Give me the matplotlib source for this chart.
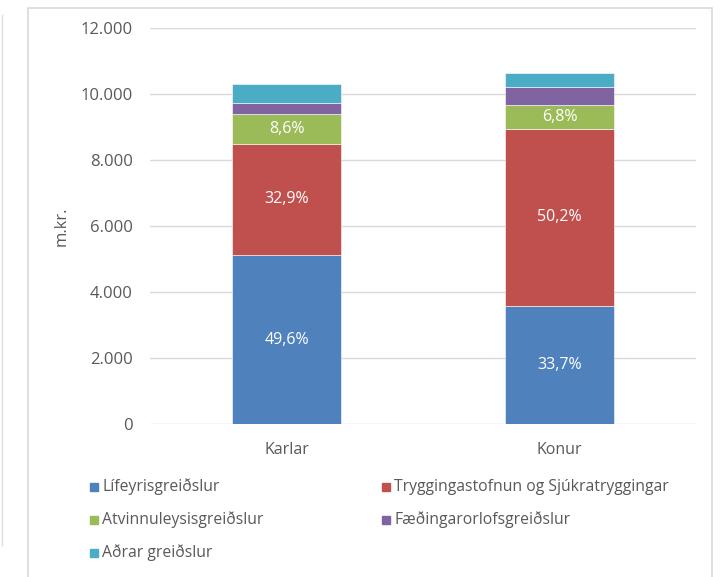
import numpy as np
import matplotlib
matplotlib.use("Agg")
import matplotlib.pyplot as plt
from matplotlib.patches import Rectangle
from matplotlib.lines import Line2D

plt.rcParams['font.family'] = ['Open Sans', 'DejaVu Sans']

categories = ["Karlar", "Konur"]
series = ["Lífeyrisgreiðslur", "Tryggingastofnun og Sjúkratryggingar",
          "Atvinnuleysisgreiðslur", "Fæðingarorlofsgreiðslur", "Aðrar greiðslur"]
lifeyris = [5110, 3590]
trygginga = [3390, 5345]
atvinnuleysis = [885, 725]
faedingar = [345, 545]
adrar = [570, 440]
values = [lifeyris, trygginga, atvinnuleysis, faedingar, adrar]
labelled = [True, True, True, False, False]
colors = ["#4F81BD", "#C0504D", "#9BBB59", "#8064A2", "#4BACC6"]
yticks = [0, 2000, 4000, 6000, 8000, 10000, 12000]

W, H = 720, 577
fig = plt.figure(figsize=(7.2, 5.77), dpi=100)
ax = fig.add_axes([150 / W, 1 - 424 / H, (696 - 150) / W, (424 - 28) / H])

grey = "#595959"
x = np.arange(len(categories))
totals = np.sum(values, axis=0)
bottom = np.zeros(len(categories))
for vals, col, lab in zip(values, colors, labelled):
    vals = np.array(vals, dtype=float)
    ax.bar(x, vals, 0.4, bottom=bottom, color=col, edgecolor="white",
           linewidth=0.4, zorder=3)
    if lab:
        for xi, v, b, t in zip(x, vals, bottom, totals):
            txt = f"{v / t * 100:.1f}%".replace(".", ",")
            ax.text(xi, b + v / 2, txt, ha="center", va="center",
                    color="white", fontsize=11.5, zorder=4)
    bottom += vals

ax.set_xlim(-0.5, 1.5)
ax.set_ylim(0, 12000)
ax.set_yticks(yticks)
ax.set_yticklabels([f"{t:,}".replace(",", ".") for t in yticks])
ax.set_xticks(x)
ax.set_xticklabels(categories)
ax.tick_params(length=0, colors=grey)
ax.tick_params(axis="y", pad=12.5, labelsize=12)
ax.tick_params(axis="x", pad=13, labelsize=11.5)
ax.yaxis.grid(True, color="#D9D9D9", linewidth=1, zorder=0)
for s in ax.spines.values():
    s.set_visible(False)
ax.set_ylabel("m.kr.", color=grey, fontsize=12, labelpad=8)

# legend entries laid out like the original two-column block
legend_pos = [(90, 487), (382, 487), (90, 520), (382, 520), (90, 553)]
for (px, py), name, col in zip(legend_pos, series, colors):
    fig.add_artist(Rectangle((px / W, 1 - (py + 4) / H), 8 / W, 8 / H,
                             transform=fig.transFigure, color=col))
    fig.text((px + 12) / W, 1 - py / H, name, color=grey, fontsize=11.3,
             va="center", ha="left")

# outer frame
fig.add_artist(Rectangle((28 / W, -0.01), (712 - 28) / W, 1 - 8 / H + 0.01,
                         transform=fig.transFigure, fill=False,
                         edgecolor="#D9D9D9", linewidth=1.2))
fig.add_artist(Line2D([2 / W, 2 / W], [1 - 15 / H, 1 - 545 / H],
                      transform=fig.transFigure, color="#E0E0E0", linewidth=1))

fig.savefig("out.png", dpi=100)
